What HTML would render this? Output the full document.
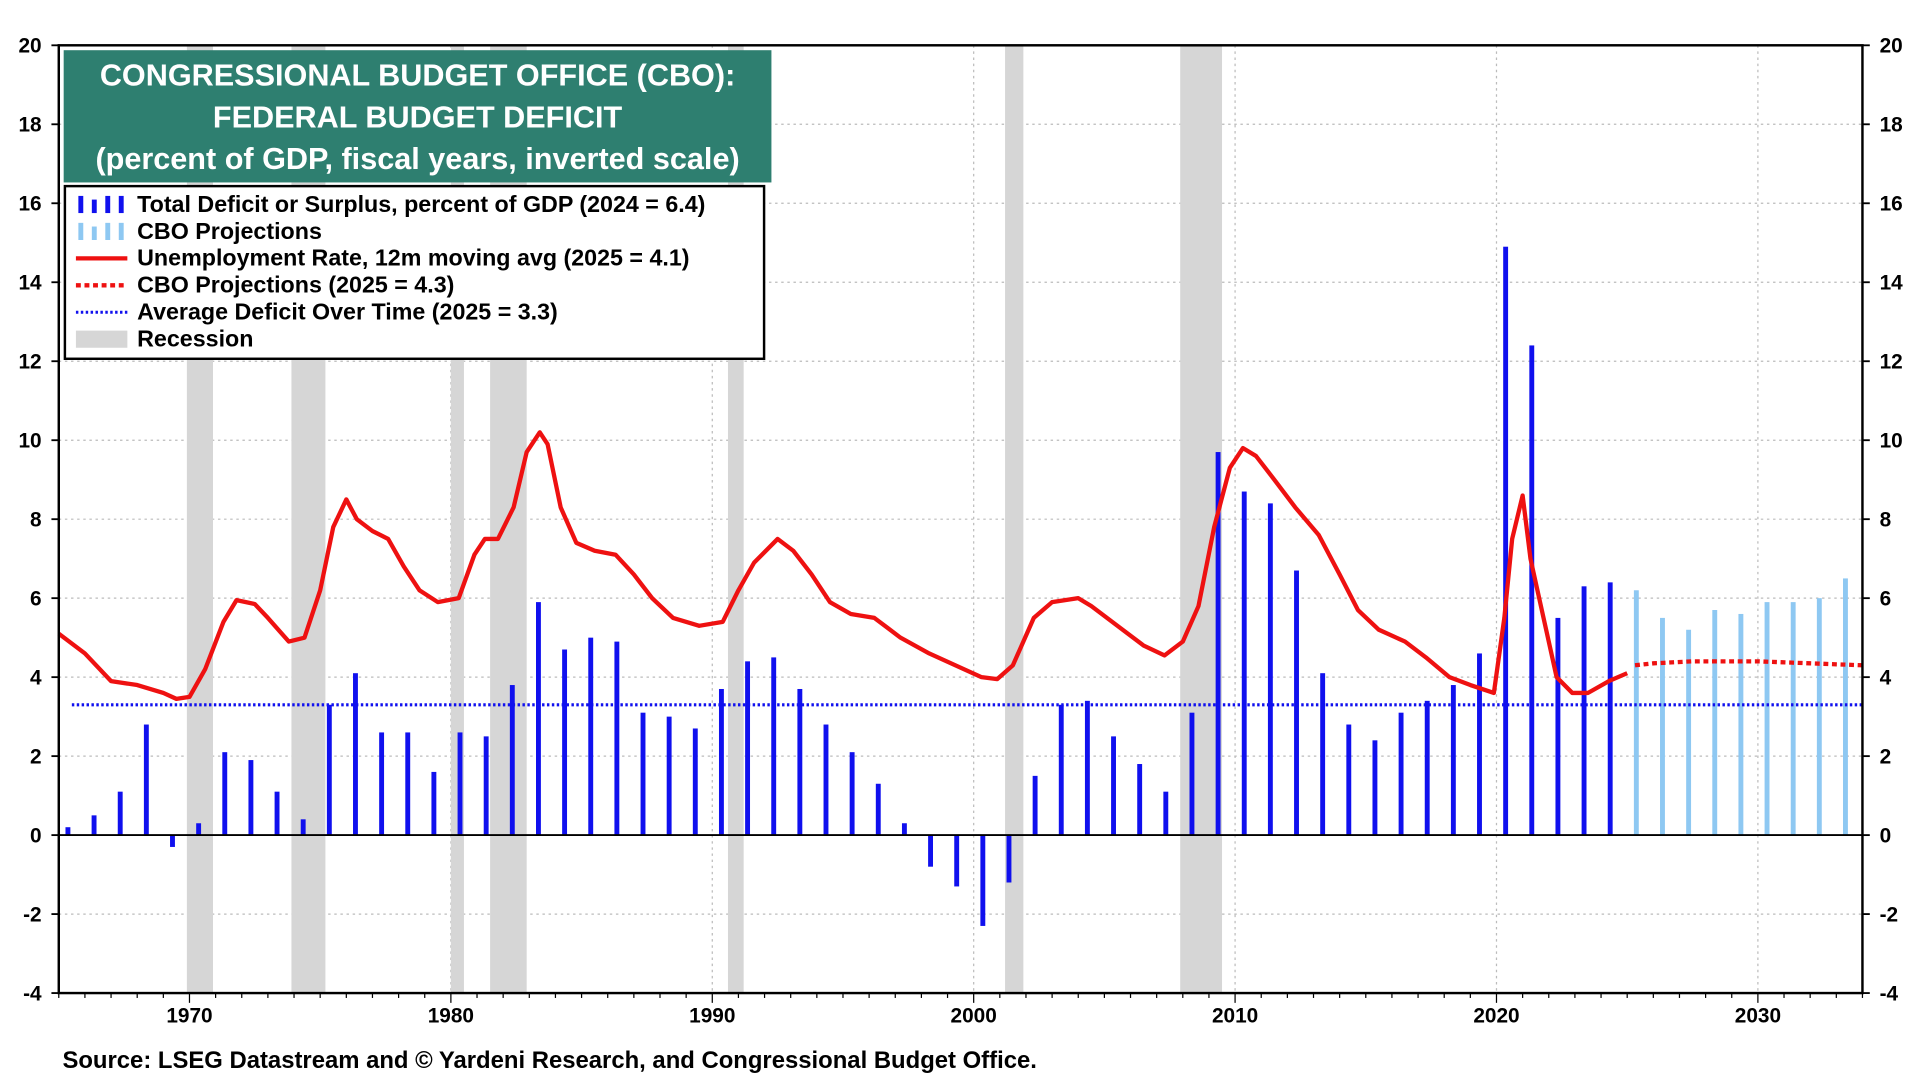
<!DOCTYPE html>
<html><head><meta charset="utf-8"><style>
html,body{margin:0;padding:0;background:#fff;}
svg{display:block;font-family:"Liberation Sans",Arial,sans-serif;}
</style></head><body>
<svg id="chart" width="1920" height="1080" viewBox="0 0 1568 882" xmlns="http://www.w3.org/2000/svg">
<g id="grid"></g>
<g id="recessions"></g>
<g id="bars"></g>
<g id="lines"></g>
<g id="axes"></g>
<g>
<rect x="52" y="41" width="578" height="108" fill="#2e7f70"/>
<text x="341" y="70" text-anchor="middle" fill="#fff" font-size="25" font-weight="bold">CONGRESSIONAL BUDGET OFFICE (CBO):</text>
<text x="341" y="104" text-anchor="middle" fill="#fff" font-size="25" font-weight="bold">FEDERAL BUDGET DEFICIT</text>
<text x="341" y="138" text-anchor="middle" fill="#fff" font-size="25" font-weight="bold">(percent of GDP, fiscal years, inverted scale)</text>
</g>
<g>
<rect x="53" y="152" width="571" height="141" fill="#fff" stroke="#000" stroke-width="2"/>
<g><g fill="#1010ee"><rect x="64" y="160" width="4" height="14"/><rect x="75" y="163" width="4" height="11"/><rect x="86" y="160" width="4" height="14"/><rect x="97" y="160" width="4" height="14"/></g><text x="112" y="173" font-size="19" font-weight="bold">Total Deficit or Surplus, percent of GDP (2024 = 6.4)</text></g>
<g><g fill="#8ec8f2"><rect x="64" y="182" width="4" height="14"/><rect x="75" y="185" width="4" height="11"/><rect x="86" y="182" width="4" height="14"/><rect x="97" y="182" width="4" height="14"/></g><text x="112" y="195" font-size="19" font-weight="bold">CBO Projections</text></g>
<g><line x1="62" y1="211" x2="104" y2="211" stroke="#ee1111" stroke-width="3.5"/><text x="112" y="217" font-size="19" font-weight="bold">Unemployment Rate, 12m moving avg (2025 = 4.1)</text></g>
<g><line x1="62" y1="233" x2="104" y2="233" stroke="#ee1111" stroke-width="3.5" stroke-dasharray="4,3"/><text x="112" y="239" font-size="19" font-weight="bold">CBO Projections (2025 = 4.3)</text></g>
<g><line x1="62" y1="255" x2="104" y2="255" stroke="#1111ee" stroke-width="2.5" stroke-dasharray="2,2"/><text x="112" y="261" font-size="19" font-weight="bold">Average Deficit Over Time (2025 = 3.3)</text></g>
<g><rect x="62" y="270" width="42" height="14" fill="#d6d6d6"/><text x="112" y="283" font-size="19" font-weight="bold">Recession</text></g>
</g>
<text x="51" y="872" font-size="19.5" font-weight="bold">Source: LSEG Datastream and © Yardeni Research, and Congressional Budget Office.</text>
</svg>
<script>
const barYears=[1965,1966,1967,1968,1969,1970,1971,1972,1973,1974,1975,1976,1977,1978,1979,1980,1981,1982,1983,1984,1985,1986,1987,1988,1989,1990,1991,1992,1993,1994,1995,1996,1997,1998,1999,2000,2001,2002,2003,2004,2005,2006,2007,2008,2009,2010,2011,2012,2013,2014,2015,2016,2017,2018,2019,2020,2021,2022,2023,2024];
const barValues=[0.2,0.5,1.1,2.8,-0.3,0.3,2.1,1.9,1.1,0.4,3.3,4.1,2.6,2.6,1.6,2.6,2.5,3.8,5.9,4.7,5.0,4.9,3.1,3.0,2.7,3.7,4.4,4.5,3.7,2.8,2.1,1.3,0.3,-0.8,-1.3,-2.3,-1.2,1.5,3.3,3.4,2.5,1.8,1.1,3.1,9.7,8.7,8.4,6.7,4.1,2.8,2.4,3.1,3.4,3.8,4.6,14.9,12.4,5.5,6.3,6.4];
const projYears=[2025,2026,2027,2028,2029,2030,2031,2032,2033];
const projValues=[6.2,5.5,5.2,5.7,5.6,5.9,5.9,6.0,6.5];
const unempT=[1965.0,1966,1967,1968,1969,1969.5,1970,1970.6,1971.3,1971.8,1972.5,1973,1973.8,1974.4,1975,1975.5,1976,1976.4,1977,1977.6,1978.2,1978.8,1979.5,1980.3,1980.9,1981.3,1981.8,1982.4,1982.9,1983.4,1983.7,1984.2,1984.8,1985.5,1986.3,1987,1987.7,1988.5,1989.5,1990.4,1991,1991.6,1992.5,1993.1,1993.8,1994.5,1995.3,1996.2,1997.2,1998.3,1999.3,2000.3,2000.9,2001.5,2002.3,2003,2004,2004.5,2005.5,2006.5,2007.3,2008,2008.6,2009.2,2009.8,2010.3,2010.8,2011.5,2012.3,2013.2,2014,2014.7,2015.5,2016.5,2017.3,2018.2,2019,2019.9,2020.3,2020.6,2021,2021.3,2021.8,2022.3,2022.9,2023.5,2024.3,2025.0];
const unempV=[5.1,4.6,3.9,3.8,3.6,3.45,3.5,4.2,5.4,5.95,5.85,5.5,4.9,5.0,6.2,7.8,8.5,8.0,7.7,7.5,6.8,6.2,5.9,6.0,7.1,7.5,7.5,8.3,9.7,10.2,9.9,8.3,7.4,7.2,7.1,6.6,6.0,5.5,5.3,5.4,6.2,6.9,7.5,7.2,6.6,5.9,5.6,5.5,5.0,4.6,4.3,4.0,3.95,4.3,5.5,5.9,6.0,5.8,5.3,4.8,4.55,4.9,5.8,7.8,9.3,9.8,9.6,9.0,8.3,7.6,6.6,5.7,5.2,4.9,4.5,4.0,3.8,3.6,5.5,7.5,8.6,7.0,5.5,4.0,3.6,3.6,3.9,4.1];
const projUT=[2025.3,2026,2027.5,2030,2032,2034];
const projUV=[4.3,4.35,4.4,4.4,4.35,4.3];
const recStart=[1969.9,1973.9,1980.0,1981.5,1990.6,2001.2,2007.9];
const recEnd=[1970.9,1975.2,1980.5,1982.9,1991.2,2001.9,2009.5];
const avgDeficit=3.3;
const yTicks=[-4,-2,0,2,4,6,8,10,12,14,16,18,20];
const xTicks=[1970,1980,1990,2000,2010,2020,2030];

const L=48,R=1521,T=37,B=811,X0=1965,X1=2034,YMIN=-4,YMAX=20;
const x=t=>L+(t-X0)/(X1-X0)*(R-L);
const y=v=>T+(YMAX-v)/(YMAX-YMIN)*(B-T);
const NS="http://www.w3.org/2000/svg";
function mk(tag,attrs,parent){const e=document.createElementNS(NS,tag);for(const k in attrs)e.setAttribute(k,attrs[k]);parent.appendChild(e);return e;}
const grid=document.getElementById('grid'),rec=document.getElementById('recessions'),bars=document.getElementById('bars'),lines=document.getElementById('lines'),axes=document.getElementById('axes');

yTicks.forEach(v=>{
  const g=mk('line',{x1:L,x2:R,y1:y(v),y2:y(v),stroke:'#bbb','stroke-width':1,'stroke-dasharray':'2,3'},grid);
  
  
  const a=mk('text',{x:L-14,y:y(v)+6,'text-anchor':'end','font-size':17,'font-weight':'bold'},axes);a.textContent=v;
  
  
  const b=mk('text',{x:R+14,y:y(v)+6,'text-anchor':'start','font-size':17,'font-weight':'bold'},axes);b.textContent=v;
  
  
  mk('line',{x1:L-6,x2:L,y1:y(v),y2:y(v),stroke:'#000','stroke-width':1.5},axes);
  mk('line',{x1:R,x2:R+6,y1:y(v),y2:y(v),stroke:'#000','stroke-width':1.5},axes);
});
xTicks.forEach(t=>{
  const g=mk('line',{x1:x(t),x2:x(t),y1:T,y2:B,stroke:'#bbb','stroke-width':1,'stroke-dasharray':'2,3'},grid);
  
  
  const a=mk('text',{x:x(t),y:B+24,'text-anchor':'middle','font-size':17,'font-weight':'bold'},axes);a.textContent=t;
  
  
});
for(let t=X0;t<=X1;t++){mk('line',{x1:x(t),x2:x(t),y1:B,y2:B+(t%10===0?8:4),stroke:'#000','stroke-width':1},axes);}
recStart.forEach((s,i)=>{
  const r=mk('rect',{x:x(s),y:T,width:x(recEnd[i])-x(s),height:B-T,fill:'#d6d6d6'},rec);
  
  
});
mk('line',{x1:L,x2:R,y1:y(0),y2:y(0),stroke:'#000','stroke-width':1.5},axes);
barYears.forEach((yr,i)=>{
  const v=barValues[i],y0=y(0),yv=y(v);
  const r=mk('rect',{x:x(yr+0.35)-2,y:Math.min(y0,yv),width:4,height:Math.abs(yv-y0),fill:'#1010ee'},bars);
  
  
});
projYears.forEach((yr,i)=>{
  const v=projValues[i],y0=y(0),yv=y(v);
  const r=mk('rect',{x:x(yr+0.35)-2,y:Math.min(y0,yv),width:4,height:Math.abs(yv-y0),fill:'#8ec8f2'},bars);
  
  
});
const avg=mk('line',{x1:x(1965.5),x2:R,y1:y(avgDeficit),y2:y(avgDeficit),stroke:'#1111ee','stroke-width':2.5,'stroke-dasharray':'2,2'},lines);


const u=mk('polyline',{points:unempT.map((t,i)=>x(t)+','+y(unempV[i])).join(' '),fill:'none',stroke:'#ee1111','stroke-width':3.5,'stroke-linejoin':'round'},lines);


const pu=mk('polyline',{points:projUT.map((t,i)=>x(t)+','+y(projUV[i])).join(' '),fill:'none',stroke:'#ee1111','stroke-width':3.5,'stroke-dasharray':'4,3'},lines);


const frame=mk('rect',{x:L,y:T,width:R-L,height:B-T,fill:'none',stroke:'#000','stroke-width':2},axes);


</script>
</body></html>
